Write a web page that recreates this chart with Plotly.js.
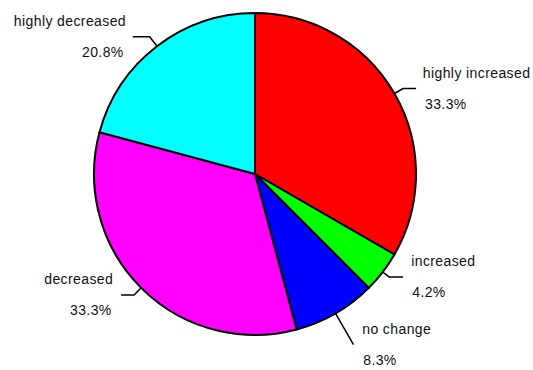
<!DOCTYPE html>
<html>
<head>
<meta charset="utf-8">
<script src="https://cdn.plot.ly/plotly-3.0.1.min.js"></script>
<style>
  html, body { margin: 0; padding: 0; background: #fff; }
  #chart { width: 533px; height: 370px; }
  #chart .annotation-text { letter-spacing: 0.4px; }
</style>
</head>
<body>
<div id="chart"></div>
<script>
// Response categories, counts and slice colours
const categories = ['highly increased', 'increased', 'no change', 'decreased', 'highly decreased'];
const counts = [8, 1, 2, 8, 5];
const sliceColors = ['#ff0000', '#00ff00', '#0000ff', '#ff00ff', '#00ffff'];

// Leader-line styling per label: radial stub length and horizontal run (px)
const stubLen = [10, 8, 36, 10, 12];
const runLen = [13, 14, 0, 13, 17];

const W = 533, H = 370;
const cx = 255, cy = 174, R = 161;   // pie centre and radius in pixels

const total = counts.reduce((a, b) => a + b, 0);
const pct = counts.map(v => (100 * v / total).toFixed(1) + '%');

const px = x => x / W;
const py = y => 1 - y / H;

const shapes = [];
const annotations = [];
const font = { family: 'Liberation Sans, Arial, sans-serif', size: 14, color: '#111' };

let cum = 0;
counts.forEach((v, i) => {
  const mid = (cum + v / 2) / total * 2 * Math.PI;   // clockwise from 12 o'clock
  cum += v;
  const dx = Math.sin(mid), dy = -Math.cos(mid);
  const right = dx >= 0;
  const x0 = cx + R * dx, y0 = cy + R * dy;
  const x1 = x0 + stubLen[i] * dx, y1 = y0 + stubLen[i] * dy;
  const x2 = x1 + (right ? 1 : -1) * runLen[i], y2 = y1;
  shapes.push({
    type: 'path', xref: 'paper', yref: 'paper',
    path: `M ${px(x0)} ${py(y0)} L ${px(x1)} ${py(y1)} L ${px(x2)} ${py(y2)}`,
    line: { color: '#000', width: 1.5 }
  });
  const tx = x2 + (right ? 8 : -8);
  [[categories[i], y2 - 15.5], [pct[i], y2 + 15.5]].forEach(([t, ty]) => {
    annotations.push({
      xref: 'paper', yref: 'paper', x: px(tx), y: py(ty),
      xanchor: right ? 'left' : 'right', yanchor: 'middle',
      text: t, showarrow: false, font: font
    });
  });
});

const trace = {
  type: 'pie',
  labels: categories,
  values: counts,
  sort: false,
  direction: 'clockwise',
  rotation: 0,
  textinfo: 'none',
  hoverinfo: 'label+percent',
  marker: { colors: sliceColors, line: { color: '#000', width: 2 } },
  domain: { x: [px(cx - R), px(cx + R)], y: [py(cy + R), py(cy - R)] }
};

const layout = {
  width: W, height: H,
  margin: { l: 0, r: 0, t: 0, b: 0 },
  paper_bgcolor: '#fff',
  showlegend: false,
  shapes: shapes,
  annotations: annotations
};

Plotly.newPlot('chart', [trace], layout, { displayModeBar: false, staticPlot: true });
</script>
</body>
</html>
